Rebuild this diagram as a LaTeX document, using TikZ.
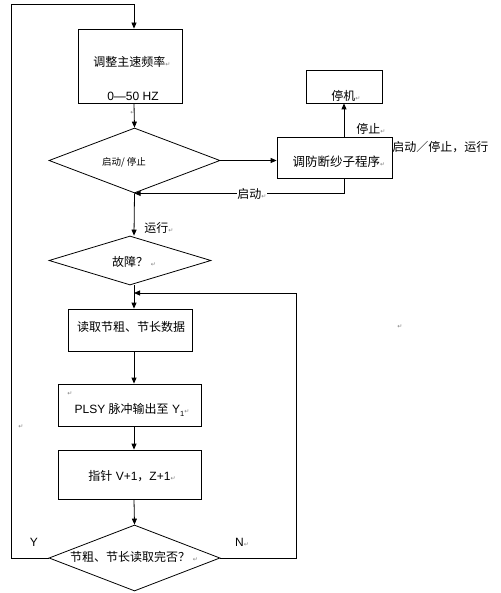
\documentclass[tikz,border=0pt]{standalone}
\usepackage{fontspec}
\setmainfont{Liberation Sans}
\newfontfamily\cjk{Noto Sans CJK SC}
\newfontfamily\dejavu{DejaVu Sans}
\usetikzlibrary{shapes.geometric,arrows.meta}
\newcommand\retmark{{\dejavu\fontsize{6}{6}\selectfont\textcolor{gray}{↵}}}
\begin{document}
\begin{tikzpicture}[x=1pt,y=-1pt,
  line width=0.8pt,
  box/.style={draw, rectangle, inner sep=0pt},
  dia/.style={draw, diamond, inner sep=0pt},
  txt/.style={inner sep=0pt, font=\cjk\fontsize{12}{12}\selectfont},
  stxt/.style={inner sep=0pt, font=\cjk\fontsize{9.5}{9.5}\selectfont},
  arr/.style={-{Triangle[length=6pt,width=5pt]}},
  rm/.style={inner sep=0pt}
]
\useasboundingbox (0,0) rectangle (500,593);
\coordinate (spine) at (134,0);
\coordinate (tl) at (11,4);
\coordinate (fb) at (296,293);

% boxes
\node[box, minimum width=104pt, minimum height=74pt] (b1) at (130,66) {};
\node[txt] (t1) at (132,62) {调整主速频率\retmark};
\node[inner sep=0pt, font=\fontsize{12}{12}\selectfont] (t1b) at (133,96) {0—50 HZ};

\node[dia, minimum width=171pt, minimum height=65pt] (d1) at (134.5,160.5) {};
\node[stxt] (td1) at (124,162) {启动/ 停止};

\node[box, minimum width=115pt, minimum height=41pt] (tf) at (334.5,157.5) {};
\node[txt, font=\cjk\fontsize{12.5}{12.5}\selectfont] (ttf) at (339,162) {调防断纱子程序\retmark};

\node[box, minimum width=76pt, minimum height=33pt] (tj) at (344,86.5) {};
\node[txt] (ttj) at (346,96) {停机\retmark};

\node[dia, minimum width=162pt, minimum height=49pt] (d2) at (130,260.5) {};
\node[txt] (td2) at (134,262) {故障？ \retmark};

\node[box, minimum width=124pt, minimum height=42pt] (b3) at (130,330) {};
\node[txt] (t3) at (131,327) {读取节粗、节长数据};

\node[box, minimum width=143pt, minimum height=42pt] (b4) at (129.5,405) {};
\node[inner sep=0pt, font=\fontsize{12}{12}\selectfont] (t4) at (132,410) {PLSY {\cjk 脉冲输出至} Y{\fontsize{7.5}{7.5}\selectfont\raisebox{-2.5pt}{1}}\retmark};

\node[box, minimum width=143pt, minimum height=49pt] (b5) at (129.5,474.5) {};
\node[inner sep=0pt, font=\fontsize{12}{12}\selectfont] (t5) at (132,476) {{\cjk 指针} V+1{\cjk ，}Z+1\retmark};

\node[dia, minimum width=171pt, minimum height=66pt] (d3) at (134.5,558) {};
\node[txt] (td3) at (134,557) {节粗、节长读取完否？ \retmark};

% connectors
\draw[arr] (d3.west) -| (tl) -| (b1.north -| spine);
\draw[arr] (b1.south -| spine) -- (d1.north);
\draw[arr] (d1.east) -- (tf.west |- d1.east);
\draw[arr] (tj.south |- tf.north) -- (tj.south);
\draw[arr] (tj.south |- tf.south) |- (d1.south);
\draw[arr] (d1.south) -- (d2.north -| spine);
\draw[arr] (d2.south -| spine) -- (b3.north -| spine);
\draw[arr] (b3.south -| spine) -- (b4.north -| spine);
\draw[arr] (b4.south -| spine) -- (b5.north -| spine);
\draw[arr] (b5.south -| spine) -- (d3.north);
\draw[arr] (d3.east) -| (fb) -- (fb -| spine);

% labels
\node[txt] (lstop) at (371,129) {停止\retmark};
\node[txt, anchor=west] (lall) at (392,147) {启动／停止，运行};
\node[txt, fill=white, inner sep=0.5pt] (lstart) at (252,194) {启动\retmark};
\node[txt, anchor=west] (lrun) at (144,228) {运行\retmark};
\node[inner sep=0pt, font=\fontsize{12}{12}\selectfont] (ly) at (34,542) {Y};
\node[inner sep=0pt, font=\fontsize{12}{12}\selectfont] (ln) at (242,542) {N\retmark};

% stray paragraph marks
\node[rm] (m1) at (133,113) {\retmark};
\node[rm] (m2) at (400,327) {\retmark};
\node[rm] (m3) at (70,394) {\retmark};
\node[rm] (m4) at (21,427) {\retmark};
\end{tikzpicture}
\end{document}
